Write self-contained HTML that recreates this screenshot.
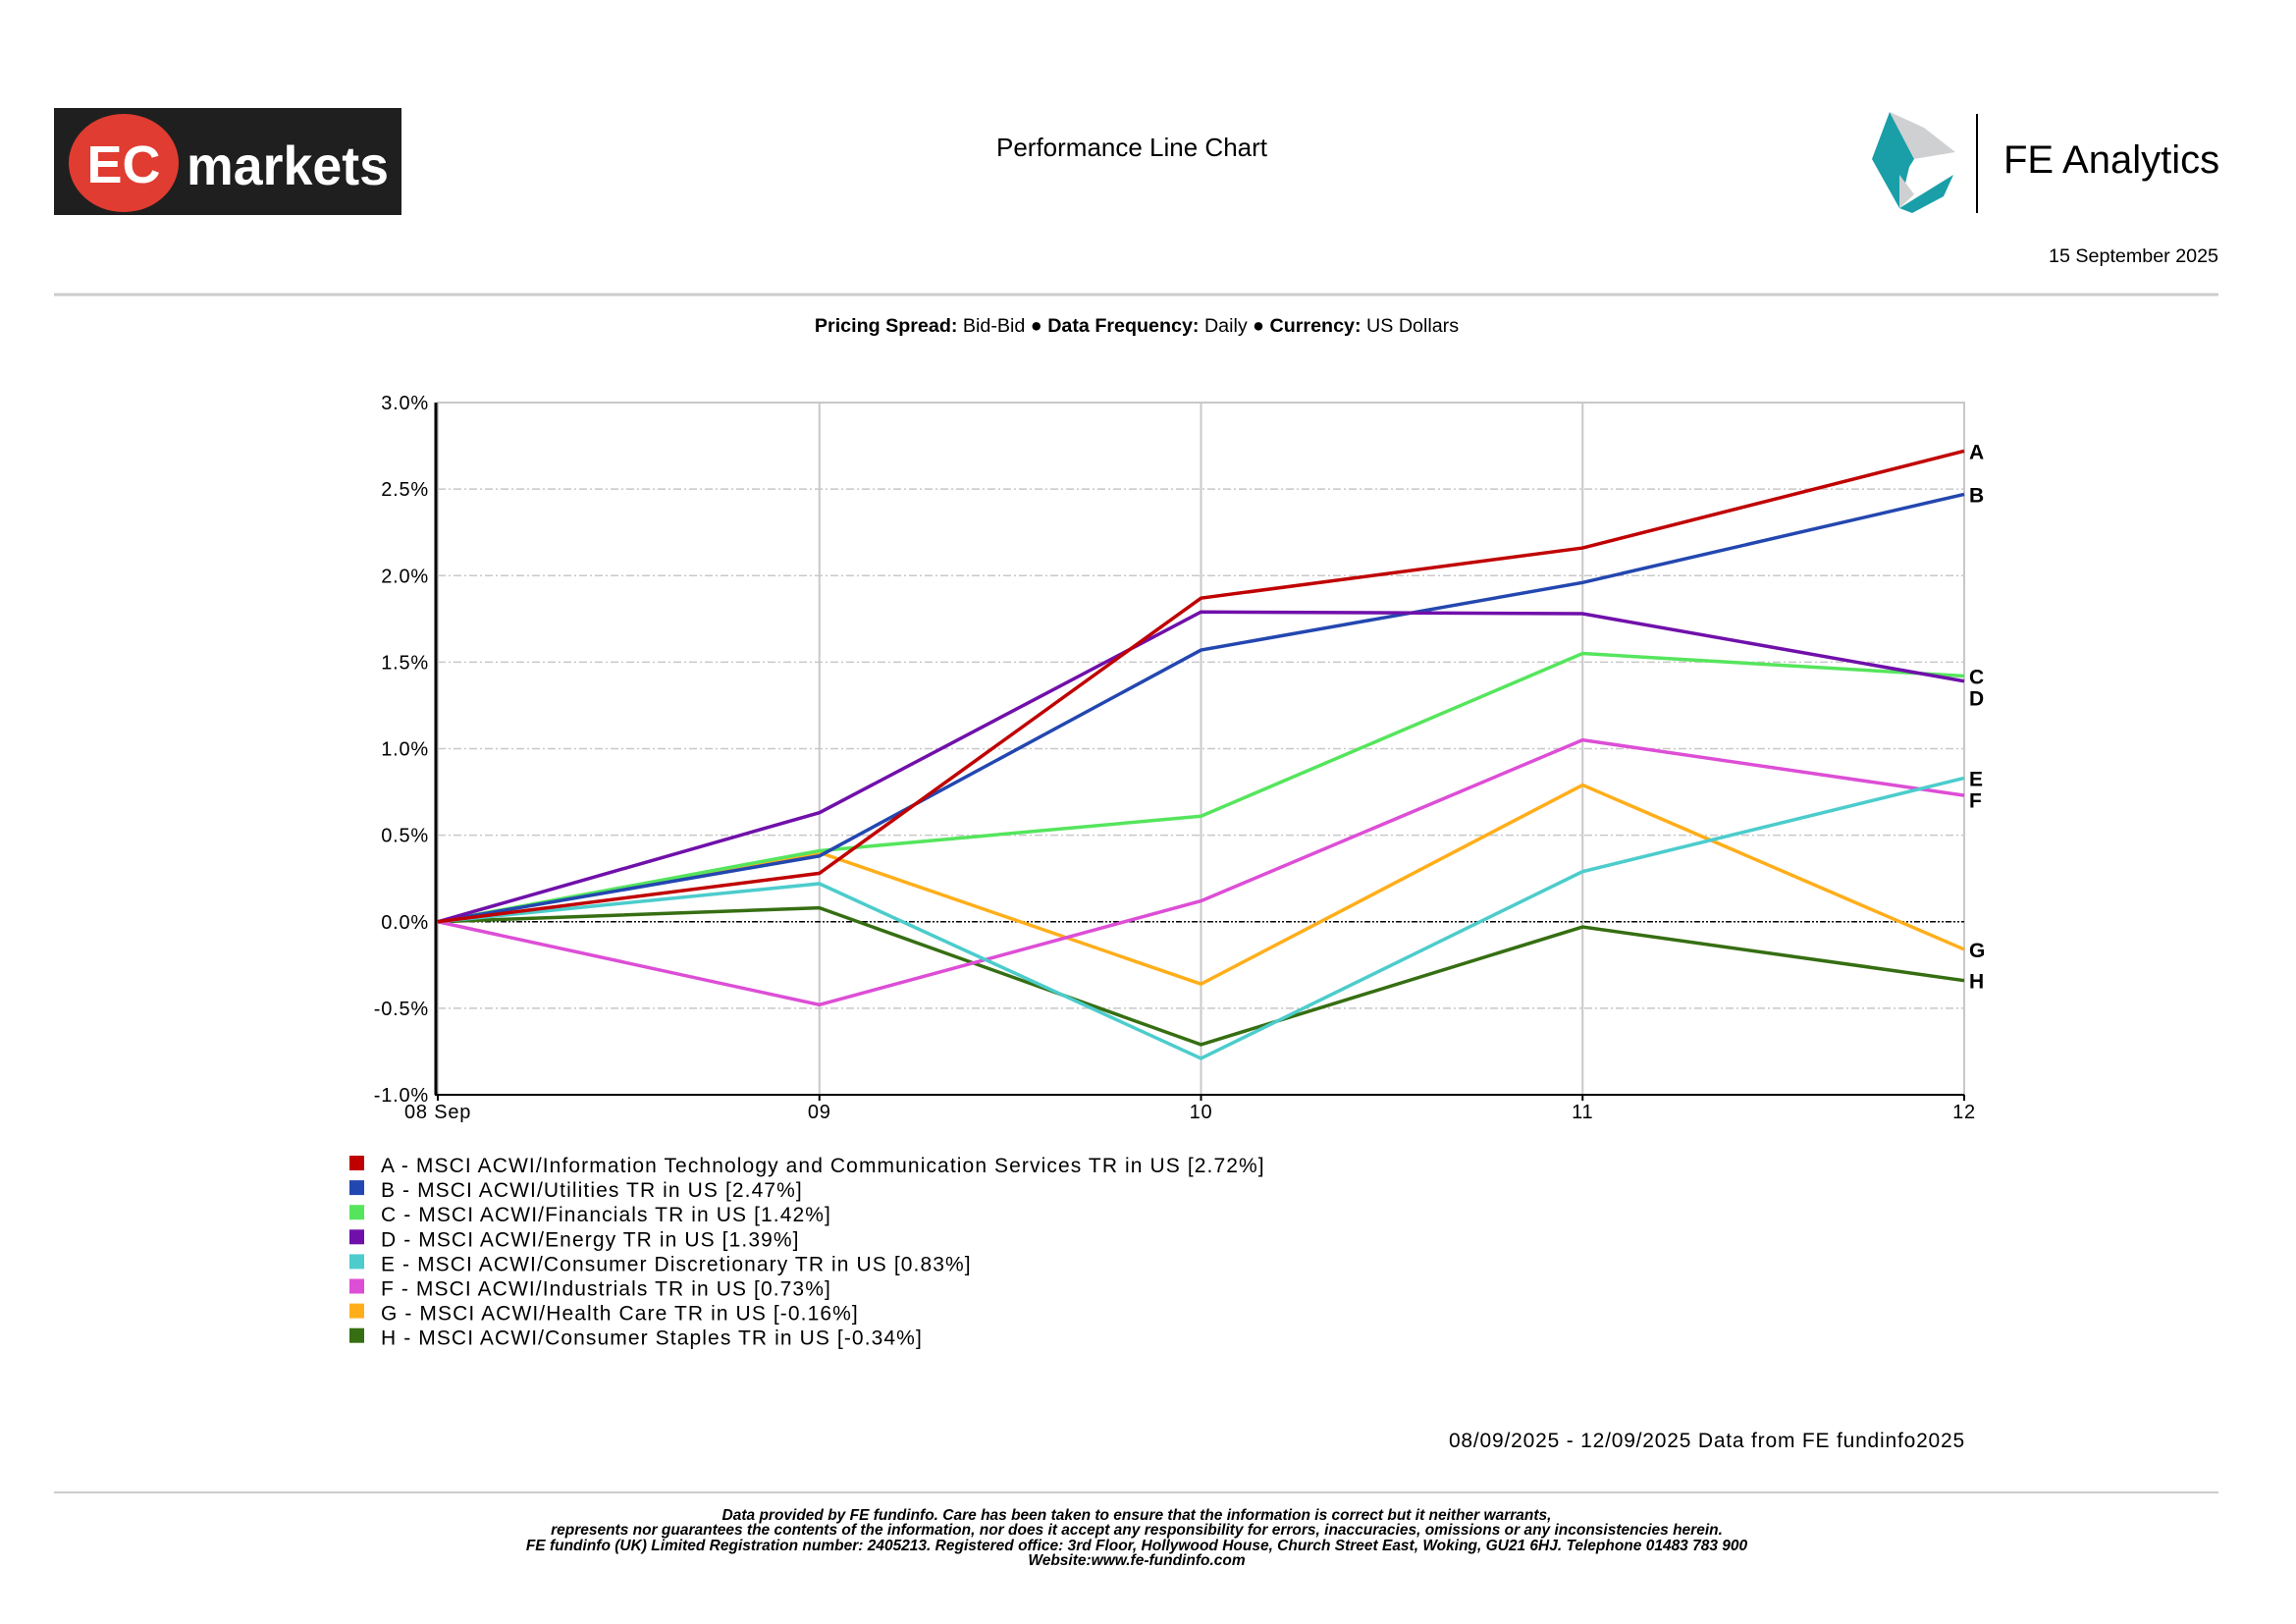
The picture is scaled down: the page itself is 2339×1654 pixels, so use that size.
<!DOCTYPE html>
<html><head><meta charset="utf-8"><style>
body{margin:0;background:#fff;}
svg{display:block;font-family:"Liberation Sans",Arial,sans-serif;}
</style></head><body>
<svg id="c" width="2339" height="1654" viewBox="0 0 2339 1654" xmlns="http://www.w3.org/2000/svg">
<g>
<rect x="55" y="110" width="354" height="109" fill="#1f1f1f"/>
<ellipse cx="126" cy="166" rx="56" ry="50" fill="#e03c31"/>
<text x="126" y="186" font-size="54" font-weight="bold" fill="#fff" text-anchor="middle">EC</text>
<text x="190" y="188" font-size="56" font-weight="bold" fill="#fff" textLength="206" lengthAdjust="spacingAndGlyphs">markets</text>
</g>
<text x="1153" y="159" font-size="26" text-anchor="middle">Performance Line Chart</text>
<g>
<polygon points="1925,114 1907,162 1935,212 1945,170 1950,162" fill="#1a9fa8"/>
<polygon points="1925,114 1950,162 1992,155 1960,130" fill="#cfd0d2"/>
<polygon points="1950,162 1992,155 1980,195 1935,212" fill="#ffffff"/>
<polygon points="1935,212 1948,217 1980,200 1990,178" fill="#1a9fa8"/>
<polygon points="1935,178 1935,212 1950,198" fill="#cfd0d2"/>
<line x1="2014" y1="116" x2="2014" y2="217" stroke="#000" stroke-width="2"/>
<text x="2041" y="176" font-size="40">FE Analytics</text>
</g>
<text x="2260" y="267" font-size="19.7" text-anchor="end">15 September 2025</text>
<line x1="55" y1="300" x2="2260" y2="300" stroke="#ccc" stroke-width="3"/>
<text x="1158" y="338" font-size="19.7" text-anchor="middle"><tspan font-weight="bold">Pricing Spread:</tspan> Bid-Bid ● <tspan font-weight="bold">Data Frequency:</tspan> Daily ● <tspan font-weight="bold">Currency:</tspan> US Dollars</text>
<g id="plot"></g>
<g id="legend"></g>
<text x="2002" y="1474" font-size="21" letter-spacing="0.8" text-anchor="end">08/09/2025 - 12/09/2025 Data from FE fundinfo2025</text>
<line x1="55" y1="1520" x2="2260" y2="1520" stroke="#ccc" stroke-width="2"/>
<g font-size="15.5" font-weight="bold" font-style="italic" text-anchor="middle">
<text x="1158" y="1548">Data provided by FE fundinfo. Care has been taken to ensure that the information is correct but it neither warrants,</text>
<text x="1158" y="1563">represents nor guarantees the contents of the information, nor does it accept any responsibility for errors, inaccuracies, omissions or any inconsistencies herein.</text>
<text x="1158" y="1579">FE fundinfo (UK) Limited Registration number: 2405213. Registered office: 3rd Floor, Hollywood House, Church Street East, Woking, GU21 6HJ. Telephone 01483 783 900</text>
<text x="1158" y="1594">Website:www.fe-fundinfo.com</text>
</g>
</svg>
<script>
const categories = ["08 Sep","09","10","11","12"];
const yTicks = [3.0,2.5,2.0,1.5,1.0,0.5,0.0,-0.5,-1.0];
const seriesLetters = ["A","B","C","D","E","F","G","H"];
const seriesNames = [
 "A - MSCI ACWI/Information Technology and Communication Services TR in US [2.72%]",
 "B - MSCI ACWI/Utilities TR in US [2.47%]",
 "C - MSCI ACWI/Financials TR in US [1.42%]",
 "D - MSCI ACWI/Energy TR in US [1.39%]",
 "E - MSCI ACWI/Consumer Discretionary TR in US [0.83%]",
 "F - MSCI ACWI/Industrials TR in US [0.73%]",
 "G - MSCI ACWI/Health Care TR in US [-0.16%]",
 "H - MSCI ACWI/Consumer Staples TR in US [-0.34%]"];
const seriesColors = ["#c00000","#2347b0","#55e55d","#7010aa","#4ccccc","#dd4ed6","#ffae1a","#366e12"];
const seriesA = [0,0.28,1.87,2.16,2.72];
const seriesB = [0,0.38,1.57,1.96,2.47];
const seriesC = [0,0.41,0.61,1.55,1.42];
const seriesD = [0,0.63,1.79,1.78,1.39];
const seriesE = [0,0.22,-0.79,0.29,0.83];
const seriesF = [0,-0.48,0.12,1.05,0.73];
const seriesG = [0,0.40,-0.36,0.79,-0.16];
const seriesH = [0,0.08,-0.71,-0.03,-0.34];
const allSeries = [seriesA,seriesB,seriesC,seriesD,seriesE,seriesF,seriesG,seriesH];

const NS="http://www.w3.org/2000/svg";
const L=446,R=2001,T=410,B=1115,yMax=3,yMin=-1;
const xS=i=>L+(R-L)*i/(categories.length-1);
const yS=v=>T+(yMax-v)/(yMax-yMin)*(B-T);
const plot=document.getElementById('plot');
function mk(tag,attrs,parent){const e=document.createElementNS(NS,tag);for(const k in attrs)e.setAttribute(k,attrs[k]);parent.appendChild(e);return e;}
mk('rect',{x:L,y:T,width:R-L,height:B-T,fill:'none',stroke:'#c8c8c8','stroke-width':2},plot);
yTicks.forEach(v=>{
  const y=yS(v);
  if(v!==0&&v!==yMin&&v!==yMax){const g=mk('line',{x1:L,x2:R,y1:y,y2:y,stroke:'#c8c8c8','stroke-width':1.5,'stroke-dasharray':'8,3,2,3'},plot);
  
  }
  const t=mk('text',{x:L-9,y:y+7,'font-size':20,'letter-spacing':0.8,'text-anchor':'end'},plot);
  t.textContent=v.toFixed(1)+'%';
  
  
});
categories.forEach((c,i)=>{
  const x=xS(i);
  if(i>0&&i<categories.length-1){const g=mk('line',{x1:x,x2:x,y1:T,y2:B,stroke:'#c8c8c8','stroke-width':2},plot);
  
  }
  mk('line',{x1:x,x2:x,y1:B,y2:B+6,stroke:'#000','stroke-width':2},plot);
  const t=mk('text',{x:i===0?x-34:x,y:B+24,'font-size':20,'letter-spacing':0.8,'text-anchor':i===0?'start':'middle'},plot);
  t.textContent=c;
  
  
});
const z=mk('line',{x1:L,x2:R,y1:yS(0),y2:yS(0),stroke:'#000','stroke-width':1.5,'stroke-dasharray':'6,2,2,2,2,2'},plot);


mk('line',{x1:L-2,x2:L-2,y1:T,y2:B,stroke:'#000','stroke-width':3},plot);
mk('line',{x1:L-3,x2:R,y1:B,y2:B,stroke:'#000','stroke-width':2},plot);
const order=[7,6,5,4,2,1,3,0];
order.forEach(si=>{
  const d=allSeries[si];
  const p=mk('polyline',{points:d.map((v,i)=>xS(i)+','+yS(v)).join(' '),fill:'none',stroke:seriesColors[si],'stroke-width':3.5},plot);
  
  
});
const ends=allSeries.map((d,i)=>({i,y:yS(d[d.length-1])}));
ends.sort((a,b)=>a.y-b.y);
for(let k=1;k<ends.length;k++){if(ends[k].y-ends[k-1].y<22)ends[k].y=ends[k-1].y+22;}
ends.forEach(e=>{
  const t=mk('text',{x:R+5,y:e.y+8,'font-size':21,'font-weight':'bold'},plot);
  t.textContent=seriesLetters[e.i];
  
  
});
const leg=document.getElementById('legend');
seriesNames.forEach((n,i)=>{
  const y=1186+i*25.1;
  const g=mk('g',{},leg);
  
  
  mk('rect',{x:356,y:y-9,width:15,height:15,fill:seriesColors[i]},g);
  const t=mk('text',{x:388,y:y+8,'font-size':21,'letter-spacing':1.1},g);
  t.textContent=n;
});
</script>
</body></html>
